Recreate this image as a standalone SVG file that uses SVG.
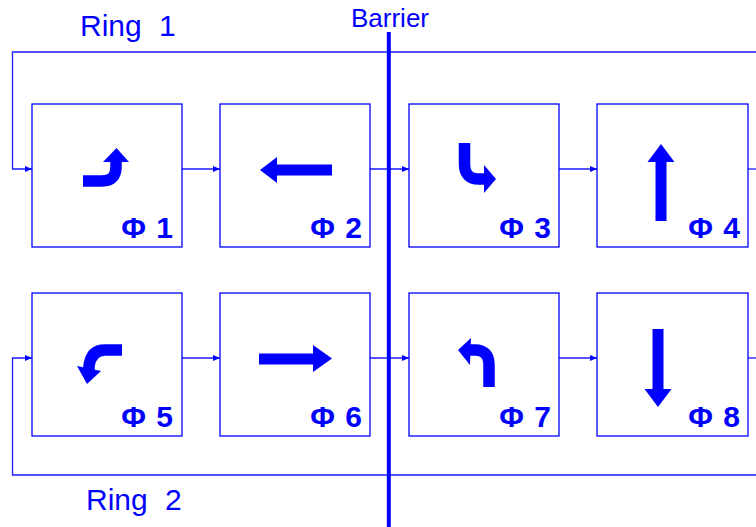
<svg xmlns="http://www.w3.org/2000/svg" width="756" height="527" viewBox="0 0 756 527">
<style>
.box{fill:#fff;stroke:#0000ff;stroke-width:1.3}
.ln{fill:none;stroke:#1a1aff;stroke-width:1.3}
.ph{font-family:"Liberation Sans",Arial,sans-serif;font-weight:bold;font-size:30px;fill:#0000ff;text-anchor:end;word-spacing:2px}
.ring{font-family:"Liberation Sans",Arial,sans-serif;font-size:30px;fill:#0000ff;word-spacing:9px}
.ico{fill:#0000ff}
.icl{fill:none;stroke:#0000ff;stroke-width:11.5}
</style>
<defs>
<marker id="ah" markerWidth="7" markerHeight="6" refX="7" refY="3" orient="auto" markerUnits="userSpaceOnUse">
<path d="M0,0 L7,3 L0,6 Z" fill="#0000ff"/>
</marker>
</defs>
<rect width="756" height="527" fill="#fff"/>
<g id="connectors">
<path class="ln" d="M756,52 H12.5 V169 H32" marker-end="url(#ah)"/>
<path class="ln" d="M182,169 H220" marker-end="url(#ah)"/>
<path class="ln" d="M370,169 H409" marker-end="url(#ah)"/>
<path class="ln" d="M559,169 H597" marker-end="url(#ah)"/>
<path class="ln" d="M748,169 H756"/>
<path class="ln" d="M756,475 H12.5 V358 H32" marker-end="url(#ah)"/>
<path class="ln" d="M182,358 H220" marker-end="url(#ah)"/>
<path class="ln" d="M370,358 H409" marker-end="url(#ah)"/>
<path class="ln" d="M559,358 H597" marker-end="url(#ah)"/>
<path class="ln" d="M748,358 H756"/>
</g>
<g id="phase1">
<rect class="box" x="32" y="104" width="150" height="143"/>
<path class="icl" d="M83,181 H102 Q116,181 116,167 V160"/>
<polygon class="ico" points="103,162 129,162 116.5,148"/>
<text class="ph" x="173" y="238">Φ 1</text>
</g>
<g id="phase2">
<rect class="box" x="220" y="104" width="150" height="143"/>
<polygon class="ico" points="260,170 277,157 277,164.5 332,164.5 332,175.5 277,175.5 277,183"/>
<text class="ph" x="362" y="238">Φ 2</text>
</g>
<g id="phase3">
<rect class="box" x="409" y="104" width="150" height="143"/>
<path class="icl" d="M464.5,143 V164 Q464.5,179 479,179 H486"/>
<polygon class="ico" points="484,165 496,179 484,193"/>
<text class="ph" x="551" y="238">Φ 3</text>
</g>
<g id="phase4">
<rect class="box" x="597" y="104" width="151" height="143"/>
<polygon class="ico" points="661,144 674.5,162 666.5,162 666.5,221 655.5,221 655.5,162 647.5,162"/>
<text class="ph" x="740" y="238">Φ 4</text>
</g>
<g id="phase5">
<rect class="box" x="32" y="293" width="150" height="143"/>
<path class="icl" d="M122,350 H105 Q91,350 89,366 V370"/>
<polygon class="ico" points="77,366 101,371 87,384"/>
<text class="ph" x="173" y="427">Φ 5</text>
</g>
<g id="phase6">
<rect class="box" x="220" y="293" width="150" height="143"/>
<polygon class="ico" points="259,353.5 313,353.5 313,345 332,358.5 313,372 313,364.5 259,364.5"/>
<text class="ph" x="362" y="427">Φ 6</text>
</g>
<g id="phase7">
<rect class="box" x="409" y="293" width="150" height="143"/>
<path class="icl" d="M489,387 V365 Q489,350 475,350 H468"/>
<polygon class="ico" points="471,338 458,350 470,365"/>
<text class="ph" x="551" y="427">Φ 7</text>
</g>
<g id="phase8">
<rect class="box" x="597" y="293" width="151" height="143"/>
<polygon class="ico" points="652.5,329 663.5,329 663.5,389 671.5,389 658,407 644.5,389 652.5,389"/>
<text class="ph" x="740" y="427">Φ 8</text>
</g>
<g id="barrier">
<rect x="386.8" y="32" width="4" height="495" fill="#0000ff"/>
<text x="351" y="27" font-family="'Liberation Sans',Arial,sans-serif" font-size="26" fill="#0000ff">Barrier</text>
</g>
<g id="labels">
<text class="ring" x="80" y="36">Ring 1</text>
<text class="ring" x="86" y="510">Ring 2</text>
</g>
</svg>
